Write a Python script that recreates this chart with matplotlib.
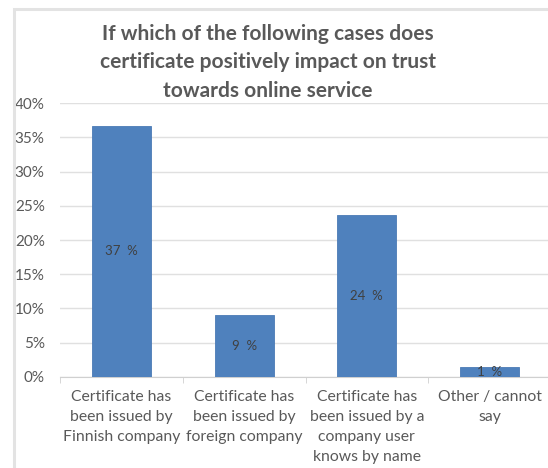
import matplotlib
matplotlib.use("Agg")
import matplotlib.pyplot as plt
from matplotlib.patches import Rectangle
from matplotlib.ticker import MultipleLocator, PercentFormatter

categories = [
    "Certificate has\nbeen issued by\nFinnish company",
    "Certificate has\nbeen issued by\nforeign company",
    "Certificate has\nbeen issued by a\ncompany user\nknows by name",
    "Other / cannot\nsay",
]
shares = [36.7, 9.1, 23.7, 1.4]
title = ("If which of the following cases does\n"
         "certificate positively impact on trust\n"
         "towards online service")

plt.rcParams["font.family"] = ["Lato", "DejaVu Sans"]

W, H = 548, 468
fig = plt.figure(figsize=(W / 100, H / 100), dpi=100)
fig.patch.set_facecolor("white")

# chart-area frame (light grey, runs off the right and bottom edges)
fig.patches.append(Rectangle((13.5 / W, -0.1), 1.2, (H - 8.5) / H + 0.1,
                             transform=fig.transFigure, fill=False,
                             edgecolor="#e3e3e3", linewidth=2.2))

ax = fig.add_axes([60 / W, (H - 376.7) / H, 491 / W, 273.4 / H])
x = range(len(categories))
bars = ax.bar(x, shares, width=0.48, color="#4f81bd", edgecolor="#4a7ab5",
              linewidth=0.6, zorder=3)

for b, v in zip(bars, shares):
    ax.text(b.get_x() + b.get_width() / 2, v / 2, f"{v:.0f}  %",
            ha="center", va="center", fontsize=9.5, color="#404040", zorder=4)

ax.set_xlim(-0.5, 3.5)
ax.set_ylim(0, 40)
ax.yaxis.set_major_locator(MultipleLocator(5))
ax.yaxis.set_major_formatter(PercentFormatter(decimals=0))
ax.grid(axis="y", color="#e0e0e0", linewidth=1.0, zorder=0)
for s in ("left", "right", "top"):
    ax.spines[s].set_visible(False)
ax.spines["bottom"].set_color("#d0d0d0")
ax.tick_params(axis="y", length=0, pad=11, labelsize=11, labelcolor="#595959")

ax.set_xticks(list(x))
ax.set_xticklabels([])
ax.tick_params(axis="x", length=0)
ax.set_xticks([-0.5, 0.5, 1.5, 2.5, 3.5], minor=True)
ax.tick_params(axis="x", which="minor", length=4, color="#d0d0d0", direction="out")

for i, lab in enumerate(categories):
    ax.annotate(lab, xy=(i, 0), xycoords=("data", "axes fraction"),
                xytext=(0, -9.5), textcoords="offset points",
                ha="center", va="top", fontsize=11.3, color="#595959",
                linespacing=1.55)

fig.text(268 / W, 1 - 23.5 / H, title, ha="center", va="top",
         fontsize=15, fontweight="bold", color="#595959", linespacing=1.55)

fig.savefig("out.png", dpi=100, facecolor="white")
